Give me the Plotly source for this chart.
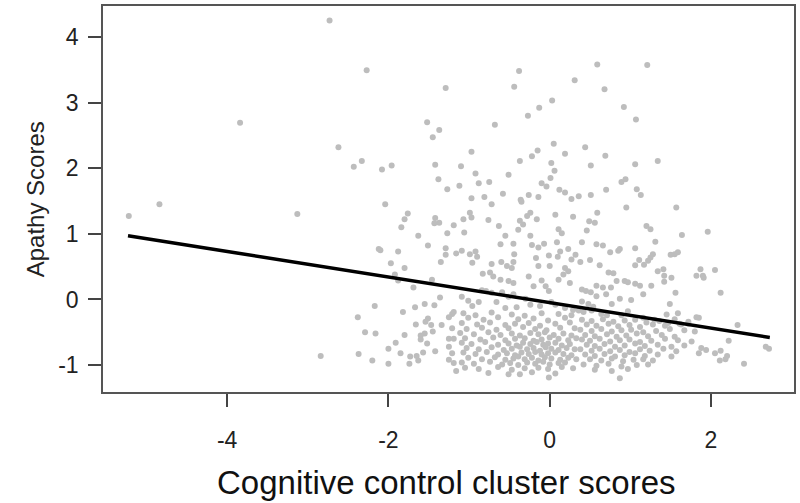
import plotly.graph_objects as go

# ---- data (x = cognitive control score, y = apathy score) ----
sparse_pts = [
    (-2.73, 4.25), (-3.84, 2.69), (-2.62, 2.32), (-4.84, 1.45), (-5.22, 1.27), (-3.13, 1.30), (-2.84, -0.86),
    (-2.27, 3.49), (-1.29, 3.22), (-0.38, 3.48), (-0.44, 3.24), (-1.52, 2.70), (-1.37, 2.58), (-1.45, 2.47),
    (-0.68, 2.66), (0.03, 3.03), (-0.13, 2.92), (-0.27, 2.80), (0.05, 2.37), (0.19, 2.22), (-0.15, 2.27),
    (-0.22, 2.18), (-0.37, 2.11), (0.02, 2.08), (0.06, 1.96), (0.01, 1.85), (-0.10, 1.77), (-0.04, 1.72),
    (0.12, 1.67), (0.19, 1.63), (-2.43, 2.02), (-2.33, 2.11), (-2.08, 1.98), (-1.96, 2.04), (-1.42, 2.05),
    (-1.38, 1.83), (-1.27, 1.68), (-1.12, 1.73), (-1.10, 2.03), (-0.97, 2.25), (-0.92, 1.92), (-0.88, 1.77),
    (-0.75, 1.79), (-0.51, 1.90), (-0.58, 1.61), (-0.81, 1.56), (-0.97, 1.54), (-0.36, 1.52), (-0.26, 1.59),
    (-0.14, 1.56), (0.59, 3.58), (1.21, 3.57), (0.31, 3.34), (0.68, 3.20), (0.92, 2.93), (1.07, 2.74),
    (0.44, 2.32), (0.69, 2.19), (0.51, 2.04), (1.06, 2.06), (1.34, 2.11), (0.89, 1.79), (0.94, 1.83),
    (0.70, 1.67), (1.08, 1.68), (1.13, 1.59), (0.51, 1.59), (0.36, 1.57), (0.27, 1.53),
]

right_pts = [
    (1.96, 1.03), (1.87, 0.46), (1.90, 0.36), (1.91, 0.33), (2.05, 0.45), (2.12, 0.10), (1.85, -0.28),
    (2.33, -0.39), (2.22, -0.63), (1.88, -0.74), (1.94, -0.77), (1.85, -0.82), (2.05, -0.82), (2.12, -0.78),
    (2.20, -0.86), (2.18, -0.91), (2.11, -0.93), (2.41, -0.98), (2.68, -0.72), (2.72, -0.75),
]

left_mid_pts = [
    (-2.04, 1.45), (-1.76, 1.31), (-1.80, 1.22), (-1.84, 1.10), (-1.42, 1.24), (-1.37, 1.17), (-1.43, 1.16),
    (-1.19, 1.13), (-1.63, 0.97), (-1.27, 1.01), (-1.51, 0.82), (-1.29, 0.78), (-1.16, 0.70), (-1.29, 0.68),
    (-2.12, 0.77), (-2.10, 0.75), (-1.88, 0.73), (-1.35, 0.57), (-1.97, 0.55), (-1.80, 0.48), (-1.92, 0.38),
    (-1.88, 0.29), (-1.69, 0.18), (-1.46, 0.30), (-1.36, 0.03), (-2.17, -0.10), (-2.38, -0.27), (-1.82, -0.19),
    (-1.67, -0.12), (-1.55, -0.07), (-1.43, -0.09), (-1.21, -0.22), (-1.25, -0.27), (-1.19, -0.19),
    (-1.51, -0.29), (-1.54, -0.34), (-1.66, -0.38), (-1.47, -0.39), (-1.34, -0.39), (-2.29, -0.50),
    (-2.16, -0.52), (-1.80, -0.54), (-1.45, -0.49), (-1.60, -0.55), (-1.55, -0.52), (-1.60, -0.61),
    (-1.52, -0.67), (-1.21, -0.44), (-1.25, -0.60), (-1.19, -0.60), (-1.91, -0.66), (-2.00, -0.75),
    (-1.85, -0.82), (-1.73, -0.87), (-1.65, -0.86), (-1.63, -0.93), (-1.74, -0.98), (-1.57, -0.81),
    (-1.42, -0.79), (-2.37, -0.83), (-2.20, -0.93), (-2.00, -0.98), (-1.25, -0.72), (-1.21, -0.82),
    (-1.25, -0.92), (-1.19, -0.97), (-1.16, -1.09),
]

center_upper_pts = [
    (-0.72, 1.45), (-0.35, 1.49), (-0.24, 1.32), (-0.28, 1.27), (-0.37, 1.20), (-0.33, 1.14), (-0.39, 1.06),
    (-0.16, 1.22), (0.07, 1.29), (0.29, 1.26), (0.11, 1.07), (0.15, 1.01), (-0.99, 1.32), (-0.97, 1.25),
    (-1.07, 1.22), (-1.06, 1.02), (-0.76, 1.21), (-0.63, 1.12), (-0.55, 0.97), (-0.61, 0.84), (-0.45, 0.85),
    (-0.24, 0.97), (-0.22, 0.83), (-0.14, 0.79), (-0.07, 0.85), (0.09, 0.87), (0.23, 0.77), (0.13, 0.73),
    (0.32, 0.68), (-0.01, 0.67), (0.10, 0.65), (-1.09, 0.74), (-0.99, 0.69), (-0.92, 0.73), (-0.90, 0.65),
    (-0.96, 0.56), (-0.72, 0.54), (-0.60, 0.57), (-0.44, 0.69), (-0.45, 0.57), (-0.47, 0.48), (-0.53, 0.51),
    (-0.17, 0.63), (-0.14, 0.51), (0.00, 0.51), (0.19, 0.48), (0.27, 0.61), (0.23, 0.43), (-0.74, 0.41),
    (-0.70, 0.35), (-0.83, 0.39), (-0.61, 0.30), (-0.51, 0.28), (-0.45, 0.25), (-0.26, 0.35), (-0.10, 0.29),
    (0.11, 0.30), (0.17, 0.38), (0.25, 0.25), (-0.05, 0.20), (-0.01, 0.13), (-0.20, 0.20),
    (-0.84, 0.14), (-0.79, 0.13), (-0.72, 0.10), (-0.59, 0.11), (-0.51, 0.04), (-0.45, 0.08), (-0.30, 0.01),
    (0.02, -0.04), (0.07, -0.08), (-1.09, 0.04), (-1.01, -0.02), (-0.96, -0.10), (-0.88, -0.04),
    (-0.66, -0.04), (-0.55, -0.13), (-0.41, -0.12), (-0.24, -0.08), (-0.12, -0.10), (0.19, -0.13),
    (0.29, -0.16),
]

center_lower_pts = [
    (-1.07, -0.21), (-0.92, -0.24), (-0.72, -0.20), (-0.47, -0.23), (-0.31, -0.25), (-0.10, -0.21), (0.11, -0.22), (0.27, -0.24),
    (-1.01, -0.28), (-0.82, -0.31), (-0.64, -0.27), (-0.39, -0.30), (-0.20, -0.29), (-0.02, -0.32), (0.19, -0.28),
    (-1.09, -0.36), (-0.90, -0.38), (-0.74, -0.35), (-0.55, -0.39), (-0.43, -0.37), (-0.26, -0.36), (-0.12, -0.40), (0.07, -0.37), (0.25, -0.35),
    (-1.03, -0.45), (-0.84, -0.43), (-0.66, -0.46), (-0.51, -0.44), (-0.33, -0.42), (-0.18, -0.45), (-0.04, -0.47), (0.13, -0.43), (0.31, -0.44),
    (-1.11, -0.51), (-0.94, -0.53), (-0.76, -0.50), (-0.61, -0.54), (-0.47, -0.52), (-0.37, -0.55), (-0.24, -0.51), (-0.14, -0.53), (-0.06, -0.50), (0.05, -0.54), (0.17, -0.52), (0.27, -0.55),
    (-1.05, -0.59), (-0.86, -0.61), (-0.70, -0.58), (-0.55, -0.62), (-0.43, -0.60), (-0.31, -0.59), (-0.20, -0.63), (-0.10, -0.61), (0.00, -0.58), (0.11, -0.60), (0.23, -0.62), (0.33, -0.59),
    (-1.09, -0.66), (-0.97, -0.68), (-0.80, -0.65), (-0.64, -0.69), (-0.51, -0.67), (-0.41, -0.70), (-0.33, -0.66), (-0.24, -0.68), (-0.16, -0.65), (-0.08, -0.69), (-0.02, -0.67), (0.07, -0.66), (0.15, -0.70), (0.25, -0.68),
    (-1.03, -0.74), (-0.88, -0.76), (-0.72, -0.73), (-0.57, -0.77), (-0.47, -0.75), (-0.37, -0.72), (-0.28, -0.76), (-0.20, -0.74), (-0.12, -0.78), (-0.05, -0.73), (0.02, -0.75), (0.11, -0.77), (0.21, -0.74), (0.31, -0.76),
    (-1.07, -0.81), (-0.92, -0.83), (-0.78, -0.80), (-0.64, -0.84), (-0.53, -0.82), (-0.43, -0.85), (-0.35, -0.81), (-0.26, -0.83), (-0.18, -0.80), (-0.10, -0.84), (-0.02, -0.82), (0.07, -0.81), (0.17, -0.83), (0.27, -0.85),
    (-1.01, -0.89), (-0.84, -0.91), (-0.68, -0.88), (-0.55, -0.92), (-0.45, -0.90), (-0.39, -0.87), (-0.31, -0.91), (-0.22, -0.89), (-0.14, -0.93), (-0.06, -0.88), (0.02, -0.90), (0.13, -0.92), (0.23, -0.89), (0.33, -0.91),
    (-1.09, -0.96), (-0.94, -0.98), (-0.74, -0.95), (-0.59, -0.99), (-0.49, -0.97), (-0.39, -1.00), (-0.28, -0.96), (-0.18, -0.98), (-0.08, -0.95), (0.00, -0.99), (0.11, -0.97), (0.19, -0.96),
    (-1.05, -1.04), (-0.88, -1.06), (-0.64, -1.03), (-0.47, -1.07), (-0.31, -1.05), (-0.14, -1.04), (-0.02, -1.06), (0.15, -1.03), (0.29, -1.05),
    (-0.76, -1.12), (-0.51, -1.14), (-0.22, -1.11), (0.07, -1.13), (-0.37, -1.14), (-0.01, -1.19),
]

east_upper_pts = [
    (0.95, 1.40), (1.57, 1.40), (0.59, 1.32), (0.49, 1.19), (0.56, 1.17), (0.46, 1.05), (1.20, 1.12),
    (1.25, 1.07), (1.64, 0.98), (1.31, 0.88), (0.40, 0.87), (0.58, 0.84), (0.66, 0.82), (0.75, 0.72),
    (0.85, 0.74), (0.87, 0.77), (1.06, 0.78), (1.28, 0.69), (1.25, 0.64), (1.22, 0.59), (1.50, 0.68),
    (1.55, 0.69), (1.59, 0.72), (0.50, 0.60), (0.38, 0.57), (0.62, 0.52), (1.11, 0.60), (1.06, 0.52),
    (1.17, 0.53), (0.73, 0.41), (0.79, 0.40), (1.34, 0.43), (1.41, 0.46), (1.42, 0.36), (1.51, 0.33),
    (1.42, 0.27), (1.82, 0.36), (0.83, 0.28), (0.93, 0.28), (0.97, 0.26), (1.06, 0.24), (1.12, 0.21),
    (1.26, 0.21), (0.58, 0.21), (0.66, 0.18), (0.76, 0.18), (0.40, 0.15), (0.45, 0.13), (0.51, 0.11),
    (1.56, 0.10), (0.58, 0.05), (0.70, 0.08), (0.87, 0.01), (1.01, -0.01), (1.16, 0.08), (1.49, -0.07),
    (0.40, -0.03), (0.48, -0.07), (0.54, -0.11), (0.77, -0.07), (0.97, -0.18), (1.45, -0.23), (1.59, -0.21),
    (1.82, -0.27), (0.36, -0.17), (0.42, -0.19), (0.52, -0.17), (0.64, -0.22), (0.71, -0.24), (0.89, -0.24),
    (1.16, -0.28), (1.30, -0.31), (1.47, -0.36), (1.63, -0.38), (1.72, -0.37),
]

east_lower_pts = [
    (0.40, -0.31), (0.52, -0.33), (0.66, -0.30), (0.79, -0.34), (0.93, -0.32), (1.06, -0.31), (1.20, -0.35), (1.36, -0.33), (1.55, -0.30), (1.72, -0.34),
    (0.46, -0.38), (0.58, -0.40), (0.73, -0.37), (0.85, -0.41), (0.99, -0.39), (1.12, -0.42), (1.28, -0.38), (1.43, -0.40), (1.61, -0.37),
    (0.38, -0.46), (0.52, -0.48), (0.64, -0.45), (0.77, -0.49), (0.89, -0.47), (1.01, -0.46), (1.16, -0.50), (1.32, -0.48), (1.49, -0.45), (1.67, -0.47), (1.80, -0.49),
    (0.44, -0.54), (0.56, -0.56), (0.71, -0.53), (0.83, -0.57), (0.95, -0.55), (1.08, -0.52), (1.22, -0.56), (1.39, -0.54), (1.55, -0.57),
    (0.40, -0.61), (0.50, -0.63), (0.62, -0.60), (0.75, -0.64), (0.87, -0.62), (0.99, -0.61), (1.12, -0.65), (1.26, -0.63), (1.43, -0.60), (1.59, -0.62), (1.76, -0.64),
    (0.46, -0.69), (0.56, -0.71), (0.68, -0.68), (0.81, -0.72), (0.93, -0.70), (1.06, -0.67), (1.18, -0.71), (1.34, -0.69), (1.51, -0.72), (1.67, -0.70),
    (0.38, -0.76), (0.52, -0.78), (0.62, -0.75), (0.75, -0.79), (0.87, -0.77), (0.99, -0.80), (1.12, -0.76), (1.24, -0.78), (1.41, -0.75), (1.57, -0.79),
    (0.44, -0.84), (0.56, -0.86), (0.68, -0.83), (0.81, -0.87), (0.93, -0.85), (1.06, -0.82), (1.18, -0.86), (1.34, -0.84), (1.51, -0.87),
    (0.50, -0.91), (0.64, -0.93), (0.77, -0.90), (0.91, -0.94), (1.04, -0.92), (1.16, -0.91), (1.28, -0.93),
    (0.42, -0.99), (0.58, -1.01), (0.73, -0.98), (0.89, -1.02), (1.08, -1.00), (1.22, -0.99),
    (0.56, -1.07), (0.77, -1.09), (0.97, -1.06), (0.87, -1.20),
]

# fitted regression line end points
fit_x = [-5.23, 2.73]
fit_y = [0.97, -0.58]

x_ticks = [-4, -2, 0, 2]
y_ticks = [-1, 0, 1, 2, 3, 4]
x_title = "Cognitive control cluster scores"
y_title = "Apathy Scores"

all_pts = sparse_pts + right_pts + left_mid_pts + center_upper_pts + center_lower_pts + east_upper_pts + east_lower_pts
xs = [p[0] for p in all_pts]
ys = [p[1] for p in all_pts]

FONT = "Liberation Sans, Arial, sans-serif"

fig = go.Figure()
fig.add_trace(go.Scatter(
    x=xs, y=ys, mode="markers",
    marker=dict(size=6, color="#bdbdbd", line=dict(width=0)),
    hoverinfo="skip", showlegend=False,
))
fig.add_trace(go.Scatter(
    x=fit_x, y=fit_y, mode="lines",
    line=dict(color="black", width=3.5),
    hoverinfo="skip", showlegend=False,
))

axis_common = dict(
    showgrid=False, zeroline=False,
    showline=True, mirror=True, linecolor="#555555", linewidth=1.5,
    ticks="outside", ticklen=13, tickwidth=1.5, tickcolor="#444444",
    tickfont=dict(family=FONT, size=23, color="#222222"),
)

fig.update_layout(
    width=800, height=503,
    margin=dict(l=103, r=4, t=4, b=111),
    paper_bgcolor="white", plot_bgcolor="white",
    xaxis=dict(range=[-5.54, 3.03], tickvals=x_ticks, ticktext=[str(v) for v in x_ticks],
               ticklabelstandoff=14, **axis_common),
    yaxis=dict(range=[-1.41, 4.47], tickvals=y_ticks, ticktext=[str(v) for v in y_ticks],
               ticklabelstandoff=5, **axis_common),
    annotations=[
        dict(text=x_title, xref="paper", yref="paper", x=0.497, y=-0.235,
             xanchor="center", yanchor="middle", showarrow=False,
             font=dict(family=FONT, size=33, color="#111111")),
        dict(text=y_title, xref="paper", yref="paper", x=-0.098, y=0.5,
             xanchor="center", yanchor="middle", textangle=-90, showarrow=False,
             font=dict(family=FONT, size=24, color="#222222")),
    ],
)

fig.write_html("out.html", config={"displayModeBar": False},
               post_script="document.body.style.margin='0';document.body.style.overflow='hidden';")
